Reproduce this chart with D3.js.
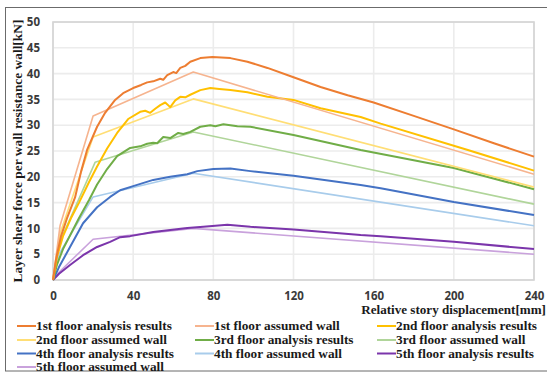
<!DOCTYPE html>
<html>
<head>
<meta charset="utf-8">
<script src="https://cdn.jsdelivr.net/npm/d3@7/dist/d3.min.js"></script>
<style>
  html, body { margin: 0; padding: 0; background: #fff; }
  svg { display: block; }
</style>
</head>
<body>
<svg id="chart" width="547" height="373"></svg>
<script>
// Story displacement [mm] vs. shear force per wall [kN], floors 1-5

const xTicks = [0, 40, 80, 120, 160, 200, 240];
const yTicks = [0, 5, 10, 15, 20, 25, 30, 35, 40, 45, 50];

// analysis results: [displacement, force]
const floor1Analysis = [[0,0],[1.5,4],[4,8.5],[7,12],[11,16],[14,21],[17,25.2],[22,29.7],[26,32.4],[31,34.9],[35,36.2],[40,37.2],[44,37.8],[47,38.3],[50,38.5],[53.5,39],[55,38.8],[57,39.7],[60,40.3],[61.5,40.1],[63.5,41.1],[66,41.5],[68.5,42.3],[73.5,43],[79.5,43.2],[88.5,43],[97,42.3],[107,41.1],[120,39.3],[133.5,37.4],[147,35.8],[160,34.4],[180,31.8],[200,29.2],[220,26.5],[240,23.9]];
const floor2Analysis = [[0,0],[2,4.5],[5,8.5],[9,12],[13,15],[18,19],[22,22],[27,25.5],[32,28.5],[37.5,31.2],[43.5,32.6],[46,32.8],[48.5,32.4],[51,33.2],[53.5,33.9],[56,34.4],[58.5,33.5],[61,34.8],[63.5,35.5],[66,35.4],[68.5,35.9],[73.5,36.8],[78.5,37.2],[83,37],[88.5,36.8],[97,36.4],[107,35.5],[120,34.9],[133.5,33.3],[153.5,31.6],[163.5,30.3],[207,25.2],[240,21.2]];
const floor3Analysis = [[0,0],[2,3],[5,6],[9,9],[13,12],[18,15.5],[22,18.5],[27,21.5],[32,24],[38.5,25.6],[43.5,25.9],[47,26.4],[50,26.6],[52,26.5],[55,27.7],[58.5,27.5],[62.5,28.5],[65,28.3],[68.5,28.7],[73.5,29.7],[78.5,30],[81,29.8],[85,30.2],[92,29.8],[98.5,29.7],[120,28.1],[153.5,25.2],[200,21.7],[240,17.6]];
const floor4Analysis = [[0,0],[3,2.5],[8.5,6.4],[15,11],[22,14.1],[28.5,16.1],[33.5,17.4],[40,18.2],[50,19.4],[58.5,20],[67,20.5],[72,21.1],[80,21.5],[88.5,21.6],[98.5,21.1],[120,20.2],[153.5,18.4],[163.5,17.8],[200,15.1],[240,12.6]];
const floor5Analysis = [[0,0],[3,1.2],[8.5,2.9],[15,4.8],[22,6.4],[28.5,7.4],[33.5,8.3],[38.5,8.5],[50,9.3],[58.5,9.7],[67,10.1],[75,10.3],[87,10.7],[98.5,10.3],[120,9.8],[153.5,8.7],[163.5,8.5],[200,7.4],[240,6.0]];

// assumed walls (multi-linear)
const floor1Assumed = [[0,0],[3.5,10.5],[20,31.8],[70,40.3],[240,20.5]];
const floor2Assumed = [[0,0],[3.5,9],[20,27.7],[70,35.1],[240,18]];
const floor3Assumed = [[0,0],[3,7],[21,22.8],[70,28.7],[240,14.7]];
const floor4Assumed = [[0,0],[3,5],[20,16.1],[70,20.7],[240,10.5]];
const floor5Assumed = [[0,0],[3,1.5],[20,7.9],[70,10],[240,5.0]];

const seriesNames = [
  "1st floor analysis results", "1st floor assumed wall", "2nd floor analysis results",
  "2nd floor assumed wall", "3rd floor analysis results", "3rd floor assumed wall",
  "4th floor analysis results", "4th floor assumed wall", "5th floor analysis results",
  "5th floor assumed wall"
];
const seriesData = [
  floor1Analysis, floor1Assumed, floor2Analysis, floor2Assumed, floor3Analysis,
  floor3Assumed, floor4Analysis, floor4Assumed, floor5Analysis, floor5Assumed
];
const seriesColors = [
  "#ED7D31", "#F6B48F", "#FFC000", "#FFDE75", "#70AD47",
  "#B0D59A", "#4472C4", "#A8CCEB", "#7B35AB", "#C9A2DC"
];

const svg = d3.select("#chart");

// outer frame
svg.append("rect").attr("x", 5.5).attr("y", 7.5).attr("width", 545).attr("height", 363.5)
  .attr("fill", "none").attr("stroke", "#6b6b6b").attr("stroke-width", 1);

const plot = { left: 53, top: 22, right: 534, bottom: 280 };
const x = d3.scaleLinear().domain([0, 240]).range([plot.left, plot.right]);
const y = d3.scaleLinear().domain([0, 50]).range([plot.bottom, plot.top]);

// grid
const grid = svg.append("g");
grid.selectAll("line.h").data(yTicks).join("line")
  .attr("x1", plot.left).attr("x2", plot.right)
  .attr("y1", d => y(d)).attr("y2", d => y(d))
  .attr("stroke", "#ececec").attr("stroke-width", 1.6);
grid.selectAll("line.v").data(xTicks).join("line")
  .attr("y1", plot.top).attr("y2", plot.bottom)
  .attr("x1", d => x(d)).attr("x2", d => x(d))
  .attr("stroke", "#ececec").attr("stroke-width", 1.6);
svg.append("rect").attr("x", plot.left).attr("y", plot.top)
  .attr("width", plot.right - plot.left).attr("height", plot.bottom - plot.top)
  .attr("fill", "none").attr("stroke", "#d4d4d4").attr("stroke-width", 1.6);

// axes (labels only)
const yAxis = d3.axisLeft(y).tickValues(yTicks).tickSize(0).tickPadding(13);
const xAxis = d3.axisBottom(x).tickValues(xTicks).tickSize(0).tickPadding(12);
const gy = svg.append("g").attr("transform", `translate(${plot.left},0)`).call(yAxis);
const gx = svg.append("g").attr("transform", `translate(0,${plot.bottom})`).call(xAxis);
[gx, gy].forEach(g => {
  g.select(".domain").remove();
  g.selectAll("text").attr("font-family", "Open Sans, Liberation Sans, sans-serif")
    .attr("font-weight", "bold").attr("font-size", 11.5).attr("fill", "#3a3a3a");
});

// series
const line = d3.line().x(d => x(d[0])).y(d => y(d[1]));
const order = [9, 8, 7, 6, 5, 4, 3, 2, 1, 0];
svg.append("g").selectAll("path").data(order).join("path")
  .attr("d", i => line(seriesData[i]))
  .attr("fill", "none")
  .attr("stroke", i => seriesColors[i])
  .attr("stroke-width", i => i % 2 === 0 ? 2 : 1.6)
  .attr("stroke-linejoin", "round");

// axis titles
const serif = "Liberation Serif, Times New Roman, serif";
svg.append("text")
  .attr("transform", `translate(22,${(plot.top + plot.bottom) / 2}) rotate(-90)`)
  .attr("text-anchor", "middle")
  .attr("font-family", serif)
  .attr("font-weight", "bold").attr("font-size", 13.4).attr("fill", "#1a1a1a")
  .text("Layer shear force per wall resistance wall[kN]");
svg.append("text")
  .attr("x", 546).attr("y", 314).attr("text-anchor", "end")
  .attr("font-family", serif)
  .attr("font-weight", "bold").attr("font-size", 13.1).attr("fill", "#1a1a1a")
  .text("Relative story displacement[mm]");

// legend
const colX = [17, 195, 377];
const rowY = [326, 340, 353.5, 367];
const leg = svg.append("g").selectAll("g").data(seriesNames).join("g")
  .attr("transform", (d, i) => `translate(${colX[i % 3]},${rowY[Math.floor(i / 3)]})`);
leg.append("line").attr("x1", 0).attr("x2", 19).attr("y1", 0).attr("y2", 0)
  .attr("stroke", (d, i) => seriesColors[i]).attr("stroke-width", 2);
leg.append("text").attr("x", 19).attr("y", 0).attr("dy", "0.33em")
  .attr("font-family", serif)
  .attr("font-weight", "bold").attr("font-size", 13.3).attr("fill", "#1a1a1a")
  .text(d => d);
</script>
</body>
</html>
